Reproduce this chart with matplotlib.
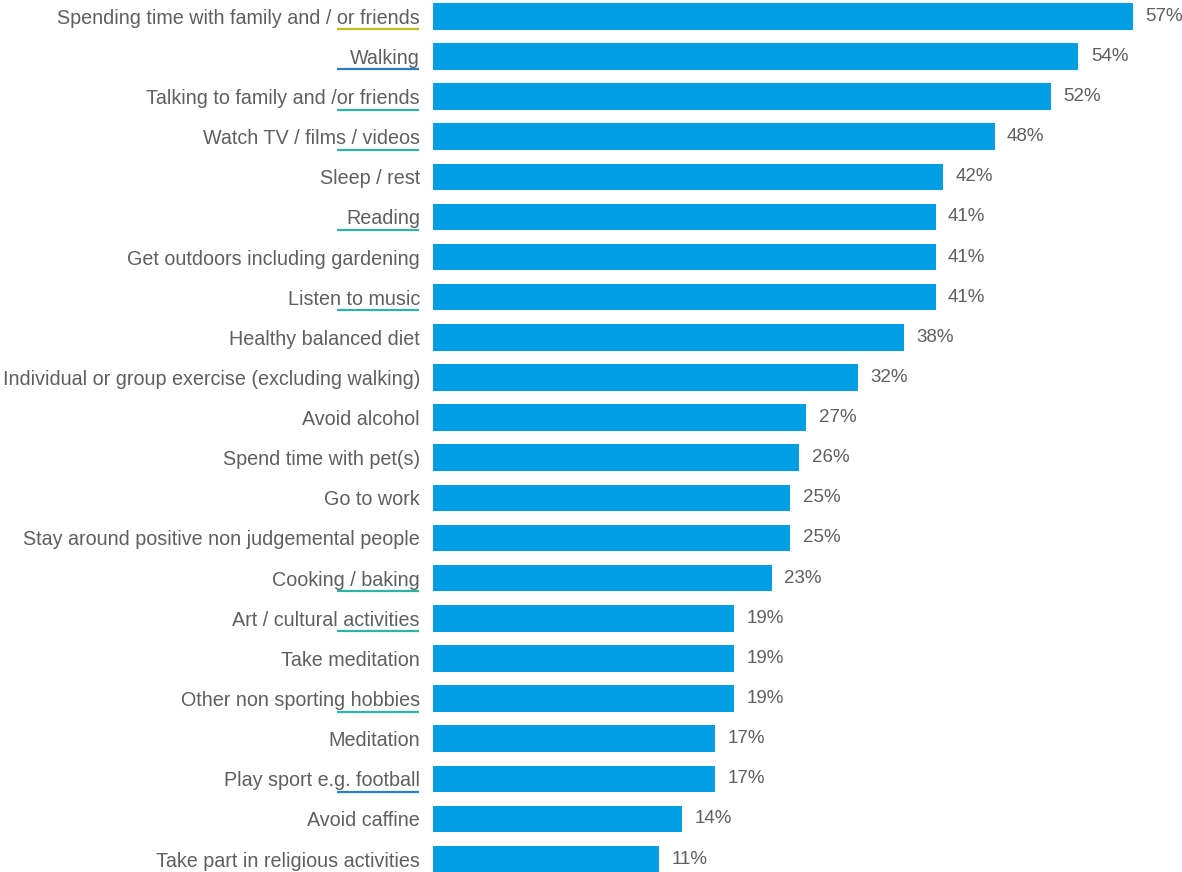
import matplotlib
matplotlib.use("Agg")
import matplotlib.pyplot as plt
import matplotlib.transforms as mtransforms

# categories, top to bottom
labels = [
    "Spending time with family and / or friends",
    "Walking",
    "Talking to family and /or friends",
    "Watch TV / films / videos",
    "Sleep / rest",
    "Reading",
    "Get outdoors including gardening",
    "Listen to music",
    "Healthy balanced diet",
    "Individual or group exercise (excluding walking)",
    "Avoid alcohol",
    "Spend time with pet(s)",
    "Go to work",
    "Stay around positive non judgemental people",
    "Cooking / baking",
    "Art / cultural activities",
    "Take meditation",
    "Other non sporting hobbies",
    "Meditation",
    "Play sport e.g. football",
    "Avoid caffine",
    "Take part in religious activities",
]

# percentages printed next to the bars
pct = [57, 54, 52, 48, 42, 41, 41, 41, 38, 32, 27, 26, 25, 25, 23, 19, 19, 19, 17, 17, 14, 11]

# bar lengths as drawn in the original (not strictly proportional to the labels)
bar_len = [56.95, 52.5, 50.3, 45.7, 41.5, 40.9, 40.9, 40.9, 38.3, 34.6, 30.4, 29.8,
           29.1, 29.1, 27.6, 24.5, 24.5, 24.5, 23.0, 23.0, 20.3, 18.4]

# which labels carry a coloured underline
underlined = {0: "#b8bf1a", 1: "#2a7fc0", 2: "#2fb3a8", 3: "#2fb3a8", 5: "#2fb3a8",
              7: "#2fb3a8", 14: "#2fb3a8", 15: "#2fb3a8", 17: "#2fb3a8", 19: "#2a7fc0"}

BAR = "#009fe3"
TXT = "#5f5f5f"
W, H, DPI = 1182, 872, 100

plt.rcParams['font.family'] = ['Liberation Sans', 'DejaVu Sans']

fig = plt.figure(figsize=(W / DPI, H / DPI), dpi=DPI)
left_px = 432.5
ax = fig.add_axes([left_px / W, 0, 1 - left_px / W, 1])

rows = list(range(len(labels)))
step = 40.13  # px between rows
first = 16.3  # px from top to first row centre
ax.barh(rows, bar_len, height=26.5 / step, color=BAR, left=0)

ax.set_xlim(0, (W - left_px) / 12.3)
ax.set_ylim((H - first) / step, -first / step)

for s in ax.spines.values():
    s.set_visible(False)
ax.set_xticks([])
ax.set_yticks(rows)
ax.set_yticklabels(labels, fontsize=14.2, color=TXT)
ax.tick_params(axis='y', length=0, pad=9)

for i, (v, p) in enumerate(zip(bar_len, pct)):
    ax.annotate(f"{p}%", (v, i), xytext=(9, 0), textcoords='offset points',
                va='center', ha='left', fontsize=13.5, color=TXT)

trans = mtransforms.blended_transform_factory(fig.transFigure, ax.transData) + \
    mtransforms.ScaledTranslation(0, -13 / DPI, fig.dpi_scale_trans)
for i, c in underlined.items():
    ax.plot([337 / W, 419 / W], [i, i], color=c, lw=1.6, transform=trans,
            clip_on=False, solid_capstyle='butt')

fig.savefig("out.png", dpi=DPI)
